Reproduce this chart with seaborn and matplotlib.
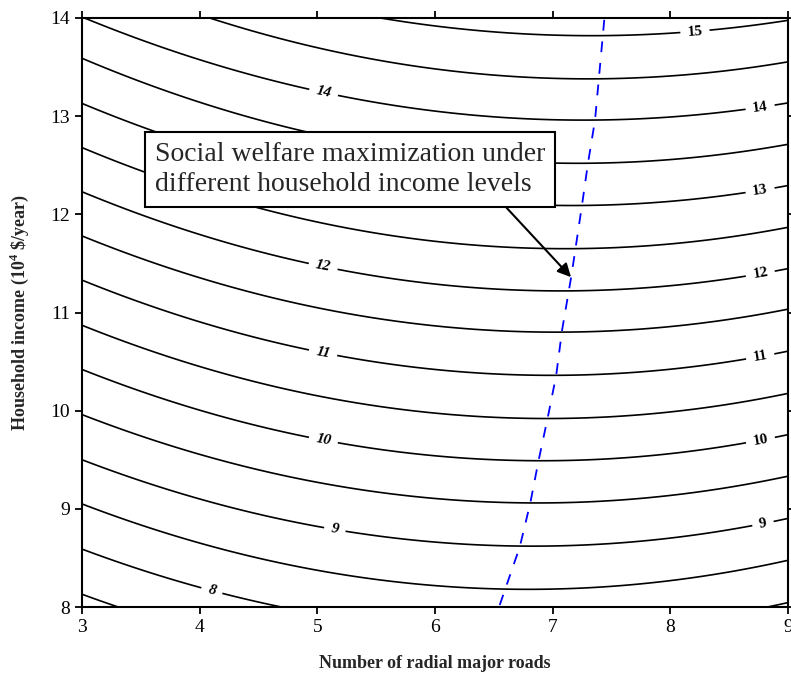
import matplotlib
matplotlib.use("Agg")
import matplotlib.pyplot as plt
import numpy as np
import seaborn as sns

# contour levels of social welfare
WELFARE_LEVELS = [7.5, 8.0, 8.5, 9.0, 9.5, 10.0, 10.5, 11.0, 11.5, 12.0, 12.5, 13.0, 13.5, 14.0, 14.5, 15.0]
# lowest income reached by each contour and where that happens
VERTEX_INCOME = [7.31, 7.745, 8.18, 8.62, 9.06, 9.49, 9.92, 10.36, 10.80, 11.22, 11.65, 12.09, 12.52, 12.96, 13.38, 13.82]
VERTEX_ROADS = [6.72, 6.76, 6.79, 6.83, 6.87, 6.91, 6.95, 6.99, 7.03, 7.07, 7.11, 7.16, 7.21, 7.26, 7.30, 7.33]
# income where each contour meets the left edge (3 roads)
EDGE_INCOME = [8.13, 8.59, 9.05, 9.50, 9.96, 10.42, 10.87, 11.33, 11.78, 12.23, 12.68, 13.13, 13.59, 14.01, 14.49, 14.87]

LABEL_LEVELS = [8, 9, 10, 11, 12, 13, 14, 15]
LABEL_SPOTS = [
    (5.05, 13.22), (5.05, 11.47), (5.05, 10.60), (5.05, 9.69), (5.15, 8.80), (4.10, 8.15),
    (8.21, 13.85), (8.76, 13.12), (8.76, 12.27), (8.76, 11.43), (8.76, 10.58), (8.76, 9.74), (8.78, 8.90),
]

# optimal number of roads for each income level (blue dashed line)
OPT_INCOME = [8.02, 8.61, 9.06, 9.49, 9.94, 10.36, 10.82, 11.38, 12.10, 12.52, 12.96, 14.0]
OPT_ROADS = [6.55, 6.72, 6.81, 6.88, 6.96, 7.03, 7.08, 7.16, 7.25, 7.30, 7.36, 7.44]

X_TICKS = [3, 4, 5, 6, 7, 8, 9]
Y_TICKS = [8, 9, 10, 11, 12, 13, 14]

sns.set_style("ticks")
plt.rcParams["font.family"] = ["Liberation Serif", "DejaVu Serif"]
plt.rcParams["mathtext.fontset"] = "custom"
plt.rcParams["mathtext.rm"] = "Liberation Serif"
plt.rcParams["mathtext.bf"] = "Liberation Serif:bold"

# rebuild the welfare surface from the contour readings
lv = np.array(WELFARE_LEVELS)
v_inc = np.array(VERTEX_INCOME)
v_rd = np.array(VERTEX_ROADS)
curv = (np.array(EDGE_INCOME) - v_inc) / (v_rd - 3) ** 2

roads = np.linspace(3, 9, 361)
income = np.linspace(7.8, 14.2, 321)
iso = v_inc[:, None] + curv[:, None] * (roads[None, :] - v_rd[:, None]) ** 2
ext_lv = np.r_[2 * lv[0] - lv[1], lv, 2 * lv[-1] - lv[-2]]
welfare = np.empty((len(income), len(roads)))
for j in range(len(roads)):
    col = iso[:, j]
    ext_col = np.r_[2 * col[0] - col[1], col, 2 * col[-1] - col[-2]]
    welfare[:, j] = np.interp(income, ext_col, ext_lv)

fig = plt.figure(figsize=(7.91, 6.77), dpi=100)
ax = fig.add_axes([82 / 791, 1 - 607 / 677, 706 / 791, 589 / 677])

half_levels = [v for v in WELFARE_LEVELS if v not in LABEL_LEVELS]
ax.contour(roads, income, welfare, levels=half_levels, colors="black", linewidths=1.2)
cs = ax.contour(roads, income, welfare, levels=LABEL_LEVELS, colors="black", linewidths=1.2)
labels = ax.clabel(cs, manual=LABEL_SPOTS, fmt="%d", fontsize=11, inline=True, inline_spacing=7)
for t in labels:
    t.set_fontweight("bold")
    if t.get_position()[0] < 6:
        t.set_fontstyle("italic")

sns.lineplot(x=OPT_ROADS, y=OPT_INCOME, color="blue", lw=1.3, sort=False, estimator=None, ax=ax)
ax.lines[-1].set_dashes((6, 6))

ax.annotate(
    "Social welfare maximization under\ndifferent household income levels",
    xy=(7.156, 11.36), xytext=(3.62, 12.74), textcoords="data",
    ha="left", va="top", fontsize=20, linespacing=1.3, zorder=10,
    bbox=dict(boxstyle="square,pad=0.35", fc="white", ec="black", lw=1.5),
    arrowprops=dict(arrowstyle="-|>", color="black", lw=1.5, mutation_scale=20, relpos=(0.876, 0.0), shrinkA=0, shrinkB=0),
)

ax.set_xlim(3, 9)
ax.set_ylim(8, 14)
ax.set_xticks(X_TICKS)
ax.set_yticks(Y_TICKS)
ax.tick_params(direction="out", length=5, width=1.3, top=True, right=True, labeltop=False, labelright=False, labelsize=14, colors="black")
for sp in ax.spines.values():
    sp.set_linewidth(1.5)
    sp.set_color("black")

ax.set_xlabel("Number of radial major roads", fontsize=13, fontweight="bold", labelpad=14)
ax.set_ylabel(r"Household income (10$^{\mathbf{4}}$ \$/year)", fontsize=13, fontweight="bold", labelpad=14)

fig.savefig("out.png", dpi=100)
